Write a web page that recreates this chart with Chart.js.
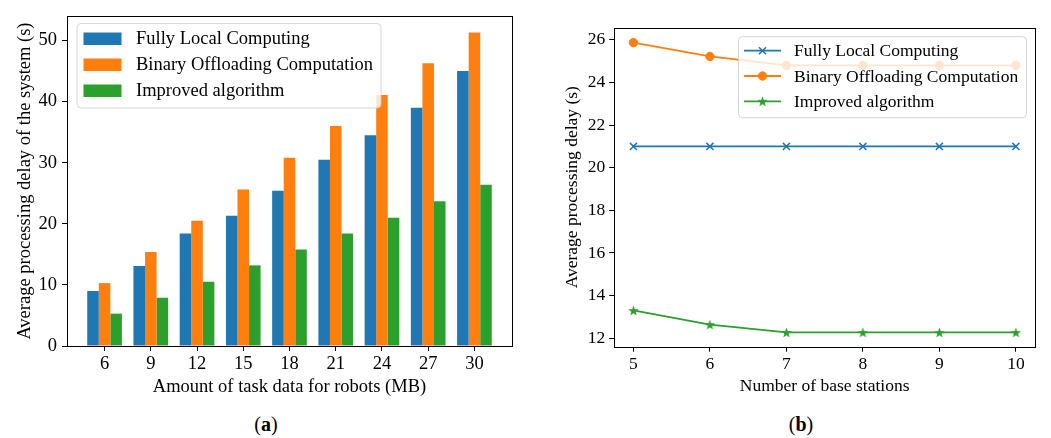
<!DOCTYPE html>
<html>
<head>
<meta charset="utf-8">
<script src="https://cdn.jsdelivr.net/npm/chart.js@4/dist/chart.umd.min.js"></script>
<style>
  html, body { margin: 0; padding: 0; background: #fff; }
  body { width: 1051px; height: 438px; position: relative; overflow: hidden;
         font-family: "Liberation Serif", "Times New Roman", serif; color: #000; }
  canvas { position: absolute; top: 0; }
  #ca { left: 0; }
  #cb { left: 525px; }
  .cap { position: absolute; top: 412px; font-size: 20px; line-height: 24px;
         transform: translateX(-50%); white-space: nowrap; }
  .cap b { font-weight: bold; }
</style>
</head>
<body>
<canvas id="ca" width="525" height="400"></canvas>
<canvas id="cb" width="526" height="400"></canvas>
<div class="cap" style="left:266px">(<b>a</b>)</div>
<div class="cap" style="left:801px">(<b>b</b>)</div>

<script>
// ---- Panel (a): delay vs. amount of task data ----
const taskData       = [6, 9, 12, 15, 18, 21, 24, 27, 30];
const localDelayA    = [9.0, 13.1, 18.4, 21.3, 25.4, 30.5, 34.5, 39.0, 45.0];
const binaryDelayA   = [10.3, 15.4, 20.5, 25.6, 30.8, 36.0, 41.1, 46.3, 51.3];
const improvedDelayA = [5.3, 7.9, 10.5, 13.2, 15.8, 18.4, 21.0, 23.7, 26.4];
const yTicksA        = [0, 10, 20, 30, 40, 50];

// ---- Panel (b): delay vs. number of base stations ----
const baseStations   = [5, 6, 7, 8, 9, 10];
const localDelayB    = [21.0, 21.0, 21.0, 21.0, 21.0, 21.0];
const binaryDelayB   = [25.87, 25.22, 24.8, 24.8, 24.8, 24.8];
const improvedDelayB = [13.3, 12.64, 12.27, 12.27, 12.27, 12.27];
const yTicksB        = [12, 14, 16, 18, 20, 22, 24, 26];

const seriesNames = ['Fully Local Computing', 'Binary Offloading Computation', 'Improved algorithm'];
const COLORS = ['#1f77b4', '#ff7f0e', '#2ca02c'];

const FONT = '"Liberation Serif", "Times New Roman", serif';
const FS_A = 18.5;   // text size in panel (a)
const FS_B = 17.5;   // text size in panel (b)
Chart.defaults.font.family = FONT;
Chart.defaults.color = '#000';

const toPoints = (xs, ys) => xs.map((x, i) => ({ x, y: ys[i] }));

// filled five-pointed star used as a point marker
function starMarker(color, size) {
  const c = document.createElement('canvas');
  c.width = c.height = size;
  const g = c.getContext('2d');
  const cx = size / 2, cy = size / 2 + size * 0.05, R = size / 2, r = R * 0.4;
  g.fillStyle = color;
  g.beginPath();
  for (let i = 0; i < 10; i++) {
    const ang = -Math.PI / 2 + i * Math.PI / 5;
    const rad = i % 2 ? r : R;
    g.lineTo(cx + rad * Math.cos(ang), cy + rad * Math.sin(ang));
  }
  g.closePath();
  g.fill();
  return c;
}
const STAR = starMarker(COLORS[2], 11);

// box around the plotting area (all four spines)
const framePlugin = {
  id: 'frame',
  afterDraw(chart) {
    const { ctx, chartArea: a } = chart;
    ctx.save();
    ctx.strokeStyle = '#000';
    ctx.lineWidth = 1;
    const l = Math.round(a.left) + 0.5, t = Math.round(a.top) + 0.5;
    const r = Math.round(a.right) + 0.5, b = Math.round(a.bottom) + 0.5;
    ctx.strokeRect(l, t, r - l, b - t);
    ctx.restore();
  }
};

function roundRect(ctx, x, y, w, h, rad) {
  ctx.beginPath();
  ctx.moveTo(x + rad, y);
  ctx.arcTo(x + w, y, x + w, y + h, rad);
  ctx.arcTo(x + w, y + h, x, y + h, rad);
  ctx.arcTo(x, y + h, x, y, rad);
  ctx.arcTo(x, y, x + w, y, rad);
  ctx.closePath();
}

// semi-transparent framed legend drawn inside the plot area
const boxLegendPlugin = {
  id: 'boxLegend',
  afterDatasetsDraw(chart, args, o) {
    const { ctx } = chart;
    ctx.save();
    roundRect(ctx, o.x, o.y, o.w, o.h, 4);
    ctx.fillStyle = 'rgba(255,255,255,0.8)';
    ctx.fill();
    ctx.strokeStyle = 'rgba(204,204,204,0.8)';
    ctx.lineWidth = 1;
    ctx.stroke();
    ctx.font = o.size + 'px ' + FONT;
    ctx.textBaseline = 'middle';
    chart.data.datasets.forEach((ds, i) => {
      const cy = o.rowY[i];
      if (o.kind === 'bar') {
        ctx.fillStyle = ds.backgroundColor;
        ctx.fillRect(o.sx, cy - 6, o.sw, 12.5);
      } else {
        ctx.strokeStyle = ds.borderColor;
        ctx.lineWidth = ds.borderWidth;
        ctx.beginPath();
        ctx.moveTo(o.sx, cy);
        ctx.lineTo(o.sx + o.sw, cy);
        ctx.stroke();
        ctx.fillStyle = ds.pointBackgroundColor;
        ctx.strokeStyle = ds.pointBorderColor;
        ctx.lineWidth = ds.pointBorderWidth;
        Chart.helpers.drawPoint(ctx, {
          pointStyle: ds.pointStyle,
          radius: ds.pointRadius,
          borderWidth: ds.pointBorderWidth,
          rotation: 0
        }, o.sx + o.sw / 2, cy);
      }
      ctx.fillStyle = '#000';
      ctx.fillText(ds.label, o.tx, cy + 1);
    });
    ctx.restore();
  }
};

function axisCommon(pad, size, extra) {
  return Object.assign({
    grid: { drawOnChartArea: false, drawTicks: true, tickLength: 5, color: '#000', offset: false },
    border: { display: false },
    ticks: { padding: pad, font: { size }, color: '#000' }
  }, extra);
}

// ---------- chart (a) ----------
new Chart(document.getElementById('ca'), {
  type: 'bar',
  data: {
    datasets: [localDelayA, binaryDelayA, improvedDelayA].map((ys, i) => ({
      label: seriesNames[i],
      data: toPoints(taskData, ys),
      backgroundColor: COLORS[i],
      borderWidth: 0,
      categoryPercentage: 0.75,
      barPercentage: 1.0
    }))
  },
  options: {
    responsive: false,
    animation: false,
    events: [],
    font: { size: FS_A },
    layout: { padding: { top: 14, right: 13, left: 0, bottom: 0 } },
    plugins: {
      legend: { display: false },
      tooltip: { enabled: false },
      boxLegend: { kind: 'bar', size: FS_A, x: 77, y: 23.5, w: 304, h: 84.5,
                   rowY: [38.5, 64.5, 90.5], sx: 83.5, sw: 38, tx: 136 }
    },
    scales: {
      x: axisCommon(2, FS_A, {
        type: 'linear',
        offset: false,
        min: 6 - 3 * 0.8125,
        max: 30 + 3 * 0.8125,
        afterBuildTicks: s => { s.ticks = taskData.map(v => ({ value: v })); },
        afterFit: s => { s.height = 54; },
        title: { display: true, text: 'Amount of task data for robots (MB)',
                 font: { size: FS_A }, padding: { top: 0, bottom: 2 } }
      }),
      y: axisCommon(5, FS_A, {
        min: 0,
        max: 54,
        afterBuildTicks: s => { s.ticks = yTicksA.map(v => ({ value: v })); },
        afterFit: s => { s.width = 67; },
        title: { display: true, text: 'Average processing delay of the system (s)',
                 font: { size: FS_A }, padding: { top: 14, bottom: 0 } }
      })
    }
  },
  plugins: [boxLegendPlugin, framePlugin]
});

// ---------- chart (b) ----------
new Chart(document.getElementById('cb'), {
  type: 'line',
  data: {
    datasets: [
      {
        label: seriesNames[0],
        data: toPoints(baseStations, localDelayB),
        borderColor: COLORS[0], backgroundColor: COLORS[0], borderWidth: 1.8,
        pointStyle: 'crossRot', pointRadius: 5, pointBorderWidth: 1.5,
        pointBorderColor: COLORS[0], pointBackgroundColor: COLORS[0]
      },
      {
        label: seriesNames[1],
        data: toPoints(baseStations, binaryDelayB),
        borderColor: COLORS[1], backgroundColor: COLORS[1], borderWidth: 1.8,
        pointStyle: 'circle', pointRadius: 4.2, pointBorderWidth: 1,
        pointBorderColor: COLORS[1], pointBackgroundColor: COLORS[1]
      },
      {
        label: seriesNames[2],
        data: toPoints(baseStations, improvedDelayB),
        borderColor: COLORS[2], backgroundColor: COLORS[2], borderWidth: 1.8,
        pointStyle: STAR, pointRadius: 5, pointBorderWidth: 1,
        pointBorderColor: COLORS[2], pointBackgroundColor: COLORS[2]
      }
    ]
  },
  options: {
    responsive: false,
    animation: false,
    events: [],
    layout: { padding: { top: 27.7, right: 16, left: 0, bottom: 0 } },
    elements: { line: { tension: 0 } },
    plugins: {
      legend: { display: false },
      tooltip: { enabled: false },
      boxLegend: { kind: 'line', size: FS_B, x: 213.5, y: 36.7, w: 288, h: 81,
                   rowY: [50.7, 76, 101.3], sx: 219, sw: 37, tx: 269 }
    },
    scales: {
      x: axisCommon(2, FS_B, {
        type: 'linear',
        min: 4.75,
        max: 10.25,
        afterBuildTicks: s => { s.ticks = baseStations.map(v => ({ value: v })); },
        afterFit: s => { s.height = 53.3; },
        title: { display: true, text: 'Number of base stations',
                 font: { size: FS_B }, padding: { top: 0, bottom: 3 } }
      }),
      y: axisCommon(4, FS_B, {
        min: 11.6,
        max: 26.57,
        afterBuildTicks: s => { s.ticks = yTicksB.map(v => ({ value: v })); },
        afterFit: s => { s.width = 89.3; },
        title: { display: true, text: 'Average processing delay (s)',
                 font: { size: FS_B }, padding: { top: 37, bottom: 0 } }
      })
    }
  },
  plugins: [boxLegendPlugin, framePlugin]
});
</script>
</body>
</html>
